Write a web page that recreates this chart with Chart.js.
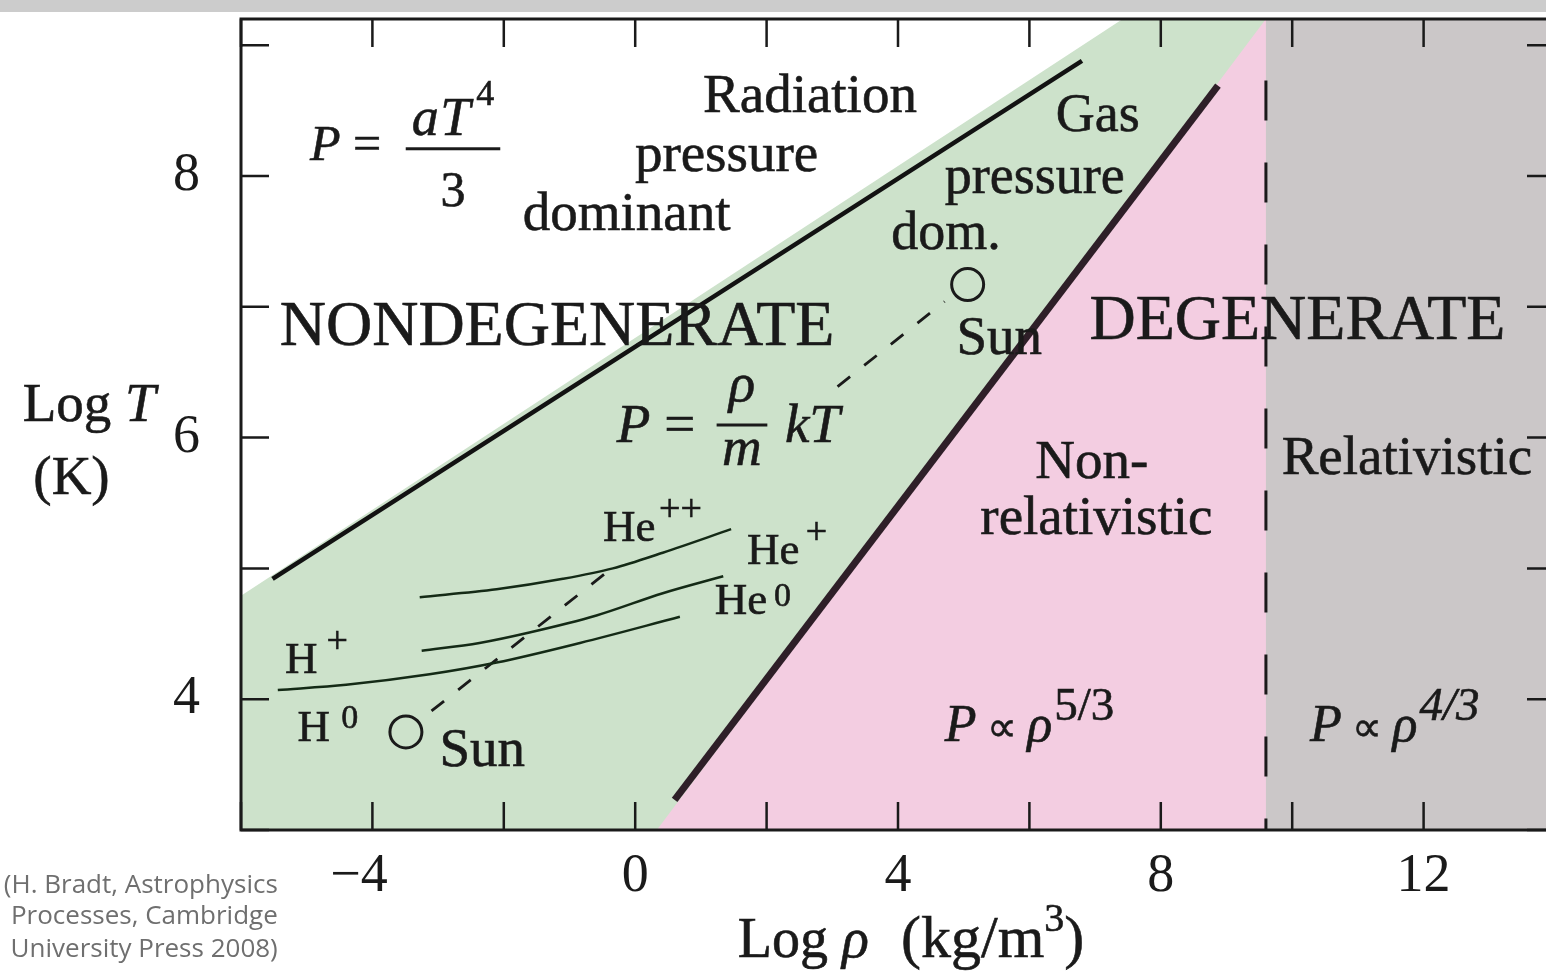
<!DOCTYPE html>
<html>
<head>
<meta charset="utf-8">
<style>
  html, body { margin: 0; padding: 0; background: #fff; overflow: hidden; width: 1546px; height: 971px; }
  #wrap { position: absolute; left: 0; top: 0; width: 1600px; height: 971px; }
  #band { position: absolute; left: 0; top: 0; width: 1546px; height: 12px; background: #cccccc; }
</style>
<script src="https://cdn.jsdelivr.net/npm/chart.js@4.4.1/dist/chart.umd.min.js"></script>
</head>
<body>
<div id="wrap"><canvas id="phase" width="1600" height="971"></canvas></div>
<div id="band"></div>
<script>
// ---- axes (log rho in kg/m^3, log T in K)
const rhoRange = [-6, 14];
const logTRange = [3, 9.2];
const rhoTickLabels = [-4, 0, 4, 8, 12];
const logTTickLabels = [4, 6, 8];

// ---- region edges, filled down to the bottom axis
const gasEdge = [[-6, 4.79], [7.42, 9.2], [9.6, 9.2]];
const degenerateEdge = [[0.33, 3.0], [9.6, 9.2]];
const relativisticEdge = [[9.6, 9.2], [14, 9.2]];

// ---- boundary lines
const radiationLine = [[-5.52, 4.92], [6.80, 8.88]];
const degeneracyLine = [[0.60, 3.23], [8.87, 8.69]];
const relativityLine = [[9.6, 8.73], [9.6, 3.0]];

// ---- ionization curves
const hIon = [[-5.44, 4.07], [-4.40, 4.11], [-3.13, 4.19], [-2.11, 4.28], [-0.84, 4.43], [0.68, 4.63]];
const heIon1 = [[-3.25, 4.37], [-2.37, 4.43], [-1.61, 4.51], [-0.59, 4.64], [0.42, 4.81], [1.34, 4.94]];
const heIon2 = [[-3.28, 4.78], [-2.11, 4.84], [-1.10, 4.92], [-0.34, 5.00], [0.42, 5.12], [1.46, 5.30]];

// ---- the Sun: surface and centre, dashed track between them
const sunPoints = [[-3.49, 3.75], [5.06, 7.17]];
const sunTrackOuter = [[-3.10, 3.91], [-0.36, 5.00]];
const sunTrackInner = [[3.08, 6.39], [4.71, 7.04]];

const INK = '#1a1a1a';
const GREEN = '#cde2cb';
const PINK = '#f3cde1';
const GRAY = '#cbc7c8';
const SERIF = '"Liberation Serif", "Times New Roman", serif';
const SANS = '"Open Sans", "Noto Sans", sans-serif';

const pts = (a) => a.map(([x, y]) => ({ x, y }));
const line = (data, o) => Object.assign({
  data: pts(data), pointRadius: 0, fill: false, borderColor: INK, borderWidth: 2.5,
  borderCapStyle: 'butt', order: 5
}, o);

// text placed in data units; runs: t text, i italic, s scale, r raise (em), dx gap (em)
const propTo = (exp, italicExp) => [
  { t: 'P', i: 1 }, { t: '\u221D', s: 0.8, dx: 0.2 }, { t: '\u03C1', i: 1, dx: 0.2 },
  { t: exp, s: 0.9, r: 0.4, i: italicExp, dx: 0.04 }
];
const labels = [
  { x: 2.66, y: 8.49, align: 'center', size: 55, runs: [{ t: 'Radiation' }] },
  { x: 1.39, y: 8.04, align: 'center', size: 55, runs: [{ t: 'pressure' }] },
  { x: -0.13, y: 7.59, align: 'center', size: 55, runs: [{ t: 'dominant' }] },
  { x: 7.04, y: 8.34, align: 'center', size: 54, runs: [{ t: 'Gas' }] },
  { x: 6.08, y: 7.87, align: 'center', size: 54, runs: [{ t: 'pressure' }] },
  { x: 4.73, y: 7.44, align: 'center', size: 54, runs: [{ t: 'dom.' }] },
  { x: -1.19, y: 6.71, align: 'center', size: 64, runs: [{ t: 'NONDEGENERATE' }] },
  { x: 10.08, y: 6.75, align: 'center', size: 64, runs: [{ t: 'DEGENERATE' }] },
  { x: 4.89, y: 6.64, size: 55, runs: [{ t: 'Sun' }] },
  { x: -2.98, y: 3.49, size: 55, runs: [{ t: 'Sun' }] },
  { x: 6.95, y: 5.69, align: 'center', size: 55, runs: [{ t: 'Non-' }] },
  { x: 7.02, y: 5.26, align: 'center', size: 55, runs: [{ t: 'relativistic' }] },
  { x: 9.84, y: 5.72, size: 55, runs: [{ t: 'Relativistic' }] },
  { x: -0.49, y: 5.21, size: 45, runs: [{ t: 'He' }, { t: '++', s: 0.85, r: 0.45, dx: 0.08 }] },
  { x: 1.70, y: 5.03, size: 45, runs: [{ t: 'He' }, { t: '+', s: 0.85, r: 0.45, dx: 0.14 }] },
  { x: 1.21, y: 4.65, size: 45, runs: [{ t: 'He' }, { t: '0', s: 0.75, r: 0.18, dx: 0.15 }] },
  { x: -5.33, y: 4.20, size: 45, runs: [{ t: 'H' }, { t: '+', s: 0.85, r: 0.45, dx: 0.2 }] },
  { x: -5.14, y: 3.68, size: 45, runs: [{ t: 'H' }, { t: '0', s: 0.75, r: 0.3, dx: 0.25 }] },
  { x: 4.71, y: 3.68, size: 52, runs: propTo('5/3', 0) },
  { x: 10.27, y: 3.68, size: 52, runs: propTo('4/3', 1) },
  { x: -4.95, y: 8.12, size: 50, runs: [{ t: 'P', i: 1 }, { t: ' = ' },
    { frac: { num: [{ t: 'a', i: 1, s: 1.08 }, { t: 'T', i: 1, s: 1.08, dx: 0.03 }, { t: '4', s: 0.72, r: 0.6, dx: 0.12 }],
              den: [{ t: '3' }], up: 0.5, down: 0.92, bar: 0.23, pad: 0.12 }, dx: 0.24 }] },
  { x: -0.28, y: 5.97, size: 55, runs: [{ t: 'P', i: 1 }, { t: ' = ' },
    { frac: { num: [{ t: '\u03C1', i: 1 }], den: [{ t: 'm', i: 1 }], up: 0.73, down: 0.42, bar: 0.3, pad: 0.1 }, dx: 0.14 },
    { t: 'kT', i: 1, dx: 0.32 }] },
  { x: -8.31, y: 6.13, align: 'center', size: 55, runs: [{ t: 'Log ' }, { t: 'T', i: 1 }] },
  { x: -8.58, y: 5.57, align: 'center', size: 55, runs: [{ t: '(K)' }] },
  { x: 1.56, y: 2.03, size: 56, runs: [{ t: 'Log ' }, { t: '\u03C1', i: 1 }, { t: '  (kg/m', s: 1.08, dx: 0.04 },
    { t: '3', s: 0.72, r: 0.47 }, { t: ')', s: 1.08 }] },
  { x: -5.44, y: 2.52, align: 'right', size: 26, family: SANS, color: '#6f6f6f', runs: [{ t: '(H. Bradt, Astrophysics' }] },
  { x: -5.44, y: 2.28, align: 'right', size: 26, family: SANS, color: '#6f6f6f', runs: [{ t: 'Processes, Cambridge' }] },
  { x: -5.44, y: 2.03, align: 'right', size: 26, family: SANS, color: '#6f6f6f', runs: [{ t: 'University Press 2008)' }] }
];

function fontFor(r, size, fam) {
  return `${r.i ? 'italic ' : ''}${Math.round(size * (r.s || 1))}px ${fam}`;
}
function runWidth(ctx, r, size, fam) {
  const gap = (r.dx || 0) * size;
  if (r.frac) {
    const f = r.frac;
    return gap + Math.max(runsWidth(ctx, f.num, size, fam), runsWidth(ctx, f.den, size, fam)) + 2 * f.pad * size;
  }
  ctx.font = fontFor(r, size, fam);
  return gap + ctx.measureText(r.t).width;
}
function runsWidth(ctx, runs, size, fam) {
  return runs.reduce((w, r) => w + runWidth(ctx, r, size, fam), 0);
}
function drawRuns(ctx, runs, x, y, size, fam, heavy) {
  for (const r of runs) {
    const gap = (r.dx || 0) * size;
    if (r.frac) {
      const f = r.frac;
      const w = runWidth(ctx, r, size, fam) - gap;
      const nw = runsWidth(ctx, f.num, size, fam);
      const dw = runsWidth(ctx, f.den, size, fam);
      x += gap;
      drawRuns(ctx, f.num, x + (w - nw) / 2, y - f.up * size, size, fam, heavy);
      drawRuns(ctx, f.den, x + (w - dw) / 2, y + f.down * size, size, fam, heavy);
      ctx.fillRect(x, y - f.bar * size - 1.5, w, 3);
      x += w;
      continue;
    }
    x += gap;
    ctx.font = fontFor(r, size, fam);
    const ty = y - (r.r || 0) * size;
    ctx.fillText(r.t, x, ty);
    if (heavy) ctx.strokeText(r.t, x, ty);
    x += ctx.measureText(r.t).width;
  }
}

// inward tick marks and the box around the plot
const frame = {
  id: 'frame',
  afterDatasetsDraw(chart) {
    const { ctx, chartArea: a, scales: { x, y } } = chart;
    const len = 28;
    ctx.save();
    ctx.strokeStyle = INK;
    ctx.lineWidth = 2.5;
    ctx.beginPath();
    x.ticks.forEach((t) => {
      const px = x.getPixelForValue(t.value);
      ctx.moveTo(px, a.bottom); ctx.lineTo(px, a.bottom - len);
      ctx.moveTo(px, a.top); ctx.lineTo(px, a.top + len);
    });
    y.ticks.forEach((t) => {
      const py = y.getPixelForValue(t.value);
      ctx.moveTo(a.left, py); ctx.lineTo(a.left + len, py);
      ctx.moveTo(a.right, py); ctx.lineTo(a.right - len, py);
    });
    ctx.stroke();
    ctx.lineWidth = 3;
    ctx.strokeRect(a.left, a.top, a.right - a.left, a.bottom - a.top);
    ctx.restore();
  }
};

const annotations = {
  id: 'annotations',
  afterDraw(chart) {
    const { ctx, scales: { x, y } } = chart;
    ctx.save();
    ctx.textBaseline = 'alphabetic';
    ctx.textAlign = 'left';
    ctx.lineWidth = 0.6;
    for (const l of labels) {
      const fam = l.family || SERIF;
      ctx.fillStyle = l.color || INK;
      ctx.strokeStyle = l.color || INK;
      const w = runsWidth(ctx, l.runs, l.size, fam);
      let px = x.getPixelForValue(l.x);
      if (l.align === 'center') px -= w / 2;
      else if (l.align === 'right') px -= w;
      drawRuns(ctx, l.runs, px, y.getPixelForValue(l.y), l.size, fam, !l.family);
    }
    ctx.restore();
  }
};

new Chart(document.getElementById('phase'), {
  type: 'line',
  data: {
    datasets: [
      line(gasEdge, { fill: 'start', backgroundColor: GREEN, borderWidth: 0, order: 10 }),
      line(degenerateEdge, { fill: 'start', backgroundColor: PINK, borderWidth: 0, order: 9 }),
      line(relativisticEdge, { fill: 'start', backgroundColor: GRAY, borderWidth: 0, order: 8 }),
      line(radiationLine, { borderWidth: 4.5, borderColor: '#121212' }),
      line(degeneracyLine, { borderWidth: 7, borderColor: '#2e1f28' }),
      line(relativityLine, { borderWidth: 3, borderDash: [40, 42] }),
      line(hIon, { cubicInterpolationMode: 'monotone', borderColor: '#142a16' }),
      line(heIon1, { cubicInterpolationMode: 'monotone', borderColor: '#142a16' }),
      line(heIon2, { cubicInterpolationMode: 'monotone', borderColor: '#142a16' }),
      line(sunTrackOuter, { borderDash: [16, 18], borderWidth: 2.8 }),
      line(sunTrackInner, { borderDash: [16, 18], borderWidth: 2.8 }),
      {
        data: pts(sunPoints), showLine: false, pointRadius: 16, pointBorderWidth: 3,
        pointBorderColor: INK, pointBackgroundColor: 'rgba(0,0,0,0)', order: 1
      }
    ]
  },
  options: {
    responsive: false,
    animation: false,
    events: [],
    layout: { padding: { top: 15, right: 45, left: 0, bottom: 0 } },
    plugins: { legend: { display: false }, tooltip: { enabled: false } },
    scales: {
      x: {
        type: 'linear', min: rhoRange[0], max: rhoRange[1],
        border: { display: false },
        grid: { display: false, drawTicks: false },
        ticks: {
          stepSize: 2, autoSkip: false, maxRotation: 0, padding: 14, color: INK,
          font: { family: SERIF, size: 54 },
          callback: (v) => rhoTickLabels.includes(v) ? (v < 0 ? '\u2212' + (-v) + '\u2002' : String(v)) : ''
        },
        afterFit: (s) => { s.height = 141; s.paddingLeft = 0; s.paddingRight = 0; }
      },
      y: {
        type: 'linear', min: logTRange[0], max: logTRange[1],
        border: { display: false },
        grid: { display: false, drawTicks: false },
        ticks: {
          stepSize: 1, includeBounds: false, autoSkip: false, padding: 41, color: INK,
          font: { family: SERIF, size: 54 },
          callback: (v) => logTTickLabels.includes(v) ? String(v) : ''
        },
        afterFit: (s) => { s.width = 241; s.paddingTop = 0; s.paddingBottom = 0; }
      }
    }
  },
  plugins: [frame, annotations]
});
</script>
</body>
</html>
